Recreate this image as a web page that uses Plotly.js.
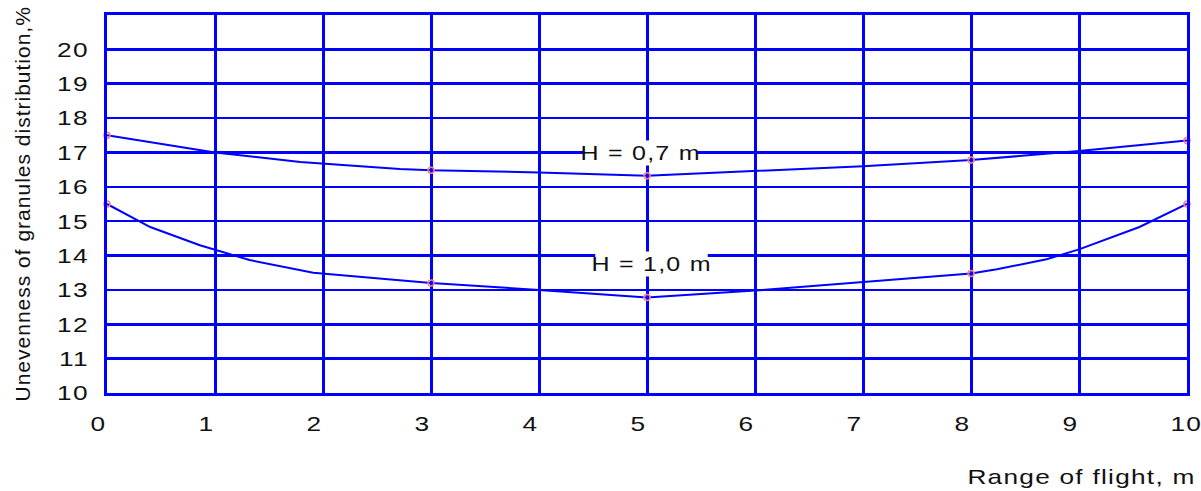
<!DOCTYPE html>
<html>
<head>
<meta charset="utf-8">
<script src="https://cdn.plot.ly/plotly-3.0.1.min.js"></script>
<style>
html,body{margin:0;padding:0;background:#fff;}
#chart text{letter-spacing:1px;}
</style>
</head>
<body>
<div id="chart" style="width:1201px;height:491px;"></div>
<script>
// Measured points (markers)
const measuredX = [0, 3, 5, 8, 10];
const h07Measured = [17.5, 16.48, 16.32, 16.78, 17.35];
const h10Measured = [15.5, 13.2, 12.78, 13.48, 15.5];

// Curve vertices
const h07CurveX = [0, 1.0, 1.79, 2.71, 3, 4, 5, 6, 7, 8, 9, 10];
const h07CurveY = [17.5, 17.0, 16.72, 16.52, 16.48, 16.42, 16.32, 16.45, 16.6, 16.78, 17.04, 17.35];
const h10CurveX = [0, 0.4, 0.86, 1.32, 1.91, 3, 4, 5, 6, 7, 8, 8.24, 8.7, 9.0, 9.19, 9.56, 10];
const h10CurveY = [15.5, 14.83, 14.3, 13.87, 13.5, 13.2, 13.0, 12.78, 12.98, 13.23, 13.48, 13.6, 13.89, 14.18, 14.4, 14.83, 15.5];

// Ticks and labels
const xTicks = [0, 1, 2, 3, 4, 5, 6, 7, 8, 9, 10];
const yTicks = [10, 11, 12, 13, 14, 15, 16, 17, 18, 19, 20];
const curveLabels = ["H = 0,7 m", "H = 1,0 m"];
const curveLabelX = [4.94, 5.04];
const curveLabelY = [16.98, 13.75];
const xTitle = "Range of flight, m";
const yTitle = "Unevenness of granules distribution,%";

const blue = "#0000FF";
const font = "Liberation Sans, Arial, sans-serif";
const ink = "#111111";
const STRETCH = 1.25;

const lineStyle = {color: blue, width: 2};
const markerStyle = {symbol: "circle-open", size: 6, color: "#FF7F7F", line: {width: 1.5, color: "#FF7F7F"}};

const data = [
  {x: h07CurveX, y: h07CurveY, mode: "lines", line: lineStyle, hoverinfo: "skip", cliponaxis: false},
  {x: h10CurveX, y: h10CurveY, mode: "lines", line: lineStyle, hoverinfo: "skip", cliponaxis: false},
  {x: measuredX, y: h07Measured, mode: "markers", marker: markerStyle, cliponaxis: false},
  {x: measuredX, y: h10Measured, mode: "markers", marker: markerStyle, cliponaxis: false}
];

const annotations = curveLabels.map((t, i) => ({
  text: t, x: curveLabelX[i], y: curveLabelY[i], xref: "x", yref: "y",
  showarrow: false, bgcolor: "#ffffff", borderpad: 1,
  font: {family: font, size: 20, color: ink}
}));
annotations.push({
  text: xTitle, xref: "paper", yref: "paper", x: 1, y: 0,
  xanchor: "right", yanchor: "middle", xshift: 2, yshift: -83, showarrow: false,
  font: {family: font, size: 21, color: ink}
});
annotations.push({
  text: yTitle, xref: "paper", yref: "paper", x: 0, y: 0.5,
  xanchor: "center", yanchor: "middle", xshift: -85, textangle: -90, showarrow: false,
  font: {family: font, size: 21, color: ink}
});
// how each annotation is widened: "center", "right" or none
const annStretch = ["center", "center", "right", null];

const layout = {
  width: 1201, height: 491,
  margin: {l: 107, r: 14, t: 15, b: 98},
  paper_bgcolor: "#ffffff", plot_bgcolor: "#ffffff",
  showlegend: false,
  font: {family: font, size: 21, color: ink},
  xaxis: {
    range: [0, 10], tickvals: xTicks, ticktext: xTicks.map(String),
    showgrid: true, gridcolor: blue, gridwidth: 3,
    showline: true, linecolor: blue, linewidth: 3, mirror: true,
    zeroline: false, ticks: "", ticklabelstandoff: 10,
    ticklabelposition: "outside right", ticklabelshift: -18,
    tickfont: {family: font, size: 21, color: ink}
  },
  yaxis: {
    range: [10, 21], tickvals: yTicks, ticktext: yTicks.map(String),
    showgrid: true, gridcolor: blue, gridwidth: 2.5,
    showline: true, linecolor: blue, linewidth: 3, mirror: true,
    zeroline: false, ticks: "", ticklabelstandoff: 11,
    tickfont: {family: font, size: 21, color: ink}
  },
  annotations: annotations
};

function widen(el, mode) {
  const bb = el.getBBox();
  let px = bb.x + bb.width / 2;
  if (mode === "left") px = bb.x;
  if (mode === "right") px = bb.x + bb.width;
  const t = el.getAttribute("transform") || "";
  el.setAttribute("transform", t + " translate(" + px + ",0) scale(" + STRETCH + ",1) translate(" + (-px) + ",0)");
}

Plotly.newPlot("chart", data, layout, {displayModeBar: false, staticPlot: true}).then(gd => {
  gd.querySelectorAll(".xtick text").forEach(el => widen(el, "left"));
  gd.querySelectorAll(".ytick text").forEach(el => widen(el, "right"));
  gd.querySelectorAll("g.annotation").forEach(a => {
    const idx = +a.getAttribute("data-index");
    const mode = annStretch[idx];
    if (!mode) return;
    const g = a.querySelector("g.annotation-text-g");
    if (g) widen(g, mode);
  });
});
</script>
</body>
</html>
